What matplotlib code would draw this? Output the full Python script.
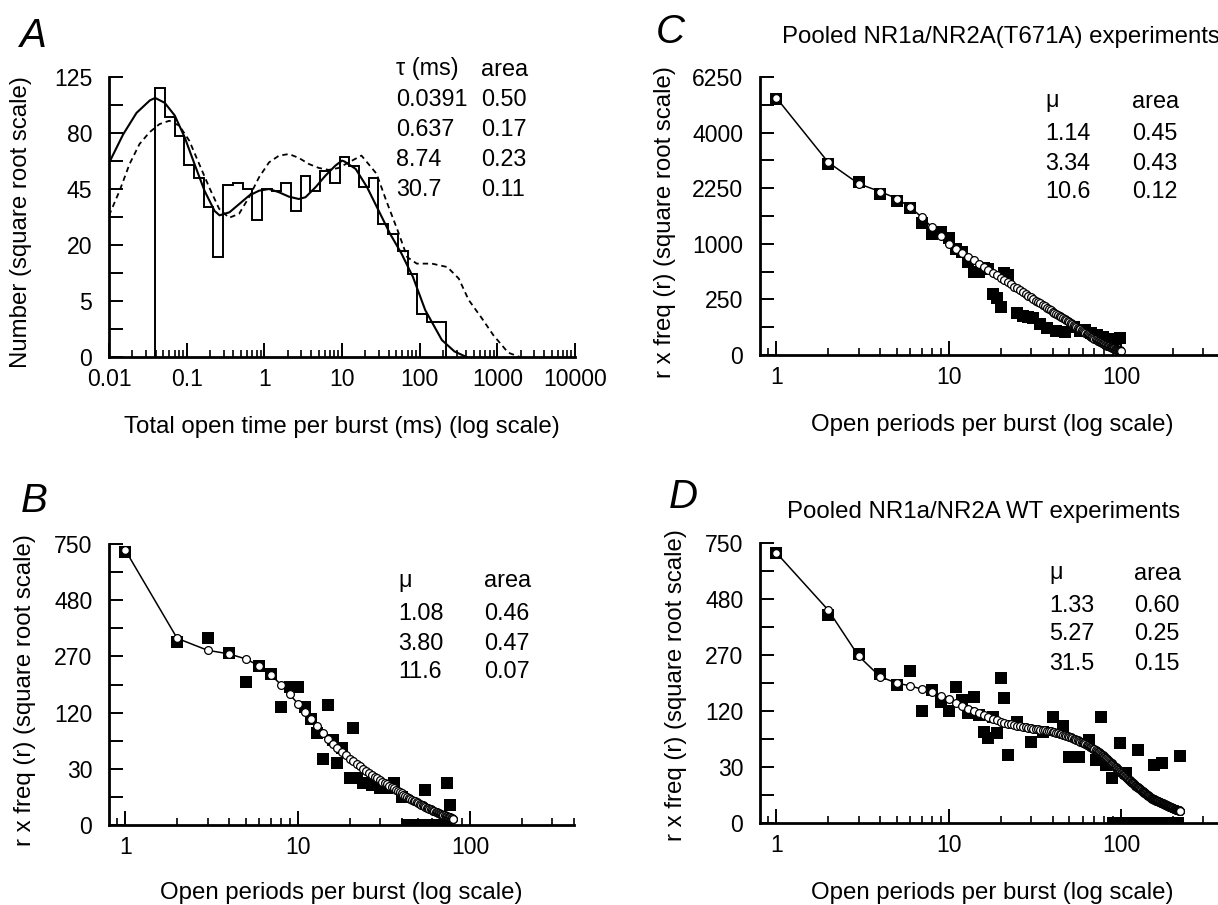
import numpy as np
import matplotlib
matplotlib.use('Agg')
import matplotlib.pyplot as plt
from matplotlib.ticker import FixedLocator, FixedFormatter, NullFormatter

plt.rcParams['font.family'] = ['Liberation Sans', 'DejaVu Sans']
FS_TICK = 16.6
FS_LAB = 17.3
FS_TAB = 16.8

# ---------------- Panel A data ----------------
hist_first_edge = 0.0393          # ms, left edge of first bin
hist_bins_per_decade = 8
hist_counts = [115, 92, 78, 59, 51, 36, 16, 47, 48, 45, 30, 45, 44, 48, 34,
               52, 44, 55, 48, 64, 58, 46, 51, 28, 24, 18, 11, 3, 2, 2]
fit_solid_t = [0.0100, 0.0152, 0.0226, 0.0336, 0.0393, 0.0522, 0.0702, 0.0942, 0.127,
               0.170, 0.229, 0.265, 0.356, 0.478, 0.635, 0.855, 1.15, 1.54, 2.07,
               2.78, 3.39, 4.55, 6.11, 8.22, 10.0, 10.7, 15.0, 21.0, 29.6, 41.6, 58.5,
               82.0, 118, 193, 280, 400]
fit_solid_n = [60, 79, 95, 105, 107, 103, 93, 77, 59, 44, 34, 32, 33.4, 37.4, 41.5,
               44.1, 45.0, 43.3, 41.0, 39.8, 40.7, 45.9, 52.4, 58.4, 61.5, 61, 56.4,
               46, 34.2, 24.2, 17.0, 10.2, 3.5, 0.46, 0.05, 0.0]
fit_dash_t = [0.0100, 0.0137, 0.0184, 0.0247, 0.0332, 0.0447, 0.060, 0.0805, 0.108,
              0.145, 0.195, 0.262, 0.352, 0.473, 0.635, 0.855, 1.15, 1.54, 2.07, 2.78,
              3.74, 5.02, 6.75, 9.06, 11.3, 17.8, 27.9, 37.1, 52.1, 69.2, 91.8, 144,
              227, 319, 427, 631, 891, 1380, 1950]
fit_dash_n = [31.9, 44.1, 59.4, 72.3, 80.5, 86.5, 89.0, 85.3, 74.6, 59.4, 45.9, 35.0,
              30.9, 32.7, 40.7, 51.5, 60.4, 64.6, 65.7, 63.2, 59.4, 57.0, 55.8, 57.0,
              59.5, 64.7, 53.5, 39, 25.5, 15.9, 13.9, 13.9, 12.9, 9.8, 5.2, 2.4, 0.75,
              0.03, 0.0]
a_table = [["\u03c4 (ms)", "area"], ["0.0391", "0.50"], ["0.637", "0.17"],
           ["8.74", "0.23"], ["30.7", "0.11"]]

# ---------------- Panel B data ----------------
b_sq_r = [1, 2, 3, 4, 5, 6, 7, 8, 9, 10, 11, 12, 13, 14, 15, 16, 17, 18, 20, 21, 22,
          24, 26, 27, 30, 33, 36, 40, 55, 73, 76]
b_sq_v = [710, 319, 331, 282, 195, 240, 218, 133, 182, 180, 133, 106, 80, 42, 137,
          68.6, 36, 56, 20.7, 88.8, 20.7, 17, 16.5, 15, 12.8, 13, 16.5, 7.6, 11.6,
          16.5, 3.8]
b_zero_r = [43, 44, 45, 46, 47, 48, 49, 50, 51, 52, 53, 54, 56, 57, 58, 59, 60, 61,
            62, 63, 64, 65, 66, 67, 68, 69, 70, 71, 72]
b_fit_v = [718, 331, 290, 278, 262, 240, 214, 187, 162, 140, 122, 106, 93, 81, 71, 63,
           56, 50.5, 46, 42, 38.7, 35.6, 32.8, 30.3, 28.0, 25.9, 24.1, 22.3, 20.7, 19.2,
           17.9, 16.7, 15.6, 14.5, 13.5, 12.7, 11.8, 11.0, 10.2, 9.5, 8.8, 8.2, 7.7,
           7.1, 6.6, 6.1, 5.7, 5.3, 4.9, 4.5, 4.2, 3.9, 3.7, 3.4, 3.1, 2.9, 2.7, 2.5,
           2.3, 2.1, 1.96, 1.82, 1.69, 1.56, 1.44, 1.33, 1.22, 1.12, 1.03, 0.94, 0.87,
           0.80, 0.73, 0.67, 0.61, 0.55, 0.50, 0.45, 0.40, 0.36]
b_table = [["\u03bc", "area"], ["1.08", "0.46"], ["3.80", "0.47"], ["11.6", "0.07"]]

# ---------------- Panel C data ----------------
c_sq_r = [1, 2, 3, 4, 5, 6, 7, 8, 9, 10, 11, 12, 13, 14, 15, 16, 17, 18, 19, 20, 21,
          22, 25, 27, 29, 31, 34, 37, 42, 47, 53, 58, 62, 67, 72, 78, 84, 92, 99]
c_sq_v = [5302, 2957, 2421, 2090, 1922, 1737, 1409, 1186, 1230, 1103, 912, 856, 700,
          560, 560, 610, 600, 300, 259, 189, 540, 520, 140, 125, 115, 109, 80, 58, 45,
          42, 65, 48, 51, 40, 33, 25, 15, 20, 23]
c_fit_v = [5355, 3004, 2374, 2160, 1980, 1760, 1532, 1318, 1140, 999, 917, 845, 782,
           726, 675, 629, 588, 550, 516, 484, 455, 428, 402, 379, 358, 337, 318, 300,
           284, 268, 253, 240, 227, 215, 203, 192, 181, 172, 162, 153, 145, 137, 130,
           123, 116, 109, 103, 97, 92, 86.5, 81.5, 76.7, 72.1, 67.9, 63.7, 59.8, 56.1,
           52.6, 49.1, 46.0, 42.9, 39.9, 37.2, 34.6, 32.1, 29.8, 27.6, 25.4, 23.4,
           21.5, 19.8, 18.2, 16.7, 15.4, 14.1, 13.0, 11.9, 10.9, 10.0, 9.2, 8.4, 7.7,
           7.1, 6.5, 6.0, 5.5, 5.0, 4.6, 4.2, 3.8, 3.5, 3.2, 2.9, 2.7, 2.4, 2.2, 2.0,
           1.8, 1.6, 1.4]
c_table = [["\u03bc", "area"], ["1.14", "0.45"], ["3.34", "0.43"], ["10.6", "0.12"]]
c_title = "Pooled NR1a/NR2A(T671A) experiments"

# ---------------- Panel D data ----------------
d_sq_r = [1, 2, 3, 4, 5, 6, 7, 8, 9, 10, 11, 12, 13, 14, 15, 16, 17, 18, 19, 20, 21,
          22, 25, 30, 35, 40, 46, 50, 57, 65, 71, 76, 82, 89, 99, 107, 126, 155, 172,
          218]
d_sq_v = [696, 414, 273, 212, 182, 222, 119, 168, 141, 119, 176, 145, 115, 151, 112,
          80, 69, 108, 77, 200, 149, 44, 98, 63, 80, 108, 90, 42, 42, 66, 38, 108, 32,
          19, 61, 24, 51, 32, 34, 43]
d_zero_r = [90, 92, 94, 96, 98, 100, 102, 104, 106, 108, 110, 112, 114, 116, 118, 120,
            122, 124, 128, 130, 132, 134, 136, 138, 140, 142, 144, 146, 148, 150, 152,
            157, 160, 163, 166, 169, 175, 178, 181, 184, 187, 190, 193, 196, 199, 202,
            205, 208, 211, 214]
d_fit_v = [699, 434, 267, 205, 187, 180, 171, 163, 154, 146, 138, 131, 125, 120, 115,
           111, 107, 104, 101, 98, 96.2, 94.5, 92.9, 91.4, 90, 89.2, 88.2, 87.4, 86.5,
           85.7, 85.0, 84.4, 83.8, 83.1, 82.5, 81.9, 81.4, 80.8, 80.3, 79.8, 78.8,
           77.9, 76.9, 76.0, 75.2, 74.3, 73.6, 72.8, 72.0, 71.3, 70.2, 69.1, 68.1, 67.1,
           66.1, 65.2, 64.3, 63.4, 62.5, 61.7, 60.6, 59.5, 58.5, 57.5, 56.5, 55.6, 54.6,
           53.7, 52.8, 52.0, 50.9, 49.8, 48.8, 47.7, 46.7, 45.7, 44.7, 43.8, 42.9, 42.0,
           40.9, 39.8, 38.7, 37.7, 36.7, 35.8, 34.8, 33.9, 33.0, 32.0, 31.2, 30.3, 29.5,
           28.7, 27.9, 27.2, 26.4, 25.7, 24.9, 24.2, 23.6, 22.9, 22.3, 21.7, 21.1, 20.6,
           20.0, 19.4, 18.9, 18.4, 17.9, 17.4, 16.9, 16.4, 15.9, 15.5, 15.0, 14.6, 14.2,
           13.8, 13.4, 13.1, 12.7, 12.4, 12.1, 11.7, 11.4, 11.1, 10.8, 10.5, 10.2, 9.96,
           9.69, 9.43, 9.15, 8.89, 8.65, 8.40, 8.16, 7.92, 7.68, 7.46, 7.24, 7.02, 6.81,
           6.60, 6.40, 6.21, 6.02, 5.81, 5.70, 5.60, 5.49, 5.39, 5.29, 5.19, 5.09, 4.99,
           4.90, 4.81, 4.72, 4.63, 4.54, 4.45, 4.36, 4.28, 4.19, 4.11, 4.03, 3.95, 3.87,
           3.79, 3.72, 3.64, 3.57, 3.49, 3.42, 3.35, 3.28, 3.22, 3.15, 3.09, 3.02, 2.96,
           2.90, 2.84, 2.78, 2.72, 2.66, 2.60, 2.55, 2.49, 2.44, 2.38, 2.33, 2.27, 2.22,
           2.17, 2.12, 2.07, 2.04, 2.00, 1.96, 1.91, 1.87, 1.84, 1.80, 1.76, 1.73, 1.69,
           1.66, 1.63, 1.59, 1.56, 1.53, 1.50, 1.47, 1.43, 1.40, 1.37]
d_table = [["\u03bc", "area"], ["1.33", "0.60"], ["5.27", "0.25"], ["31.5", "0.15"]]
d_title = "Pooled NR1a/NR2A WT experiments"

y_label_r = "r x freq (r) (square root scale)"
x_label_r = "Open periods per burst (log scale)"

# ---------------- helpers ----------------
W, H = 1218, 905
fig = plt.figure(figsize=(W / 100, H / 100), dpi=100)


def px_axes(x0, x1, y0, y1):
    return fig.add_axes([x0 / W, (H - y1) / H, (x1 - x0) / W, (y1 - y0) / H])


def ftext(x, y, s, **kw):
    fig.text(x / W, 1 - y / H, s, **kw)


def sq_fwd(v):
    return np.sqrt(np.clip(v, 0, None))


def sq_inv(s):
    return np.square(s)


def style_axes(ax, ymajor, xlim, xmajor, xmajor_labels, xminor):
    ax.set_xscale('log')
    ax.set_yscale('function', functions=(sq_fwd, sq_inv))
    ax.set_xlim(*xlim)
    ax.set_ylim(0, ymajor[-1])
    for s in ['top', 'right']:
        ax.spines[s].set_visible(False)
    for s in ['left', 'bottom']:
        ax.spines[s].set_linewidth(2.0)
    ax.yaxis.set_major_locator(FixedLocator(ymajor))
    ax.yaxis.set_major_formatter(FixedFormatter([str(v) for v in ymajor]))
    roots = np.sqrt(ymajor)
    mids = ((roots[:-1] + roots[1:]) / 2) ** 2
    ax.yaxis.set_minor_locator(FixedLocator(mids))
    ax.yaxis.set_minor_formatter(NullFormatter())
    ax.xaxis.set_major_locator(FixedLocator(xmajor))
    ax.xaxis.set_major_formatter(FixedFormatter(xmajor_labels))
    ax.xaxis.set_minor_locator(FixedLocator(xminor))
    ax.xaxis.set_minor_formatter(NullFormatter())
    ax.tick_params(axis='y', which='both', direction='in', length=10, width=1.4,
                   labelsize=FS_TICK, pad=12)
    ax.tick_params(axis='x', which='major', direction='in', length=10, width=1.4,
                   labelsize=FS_TICK, pad=8)
    ax.tick_params(axis='x', which='minor', direction='in', length=5, width=1.2)
    ax.patch.set_alpha(0)


def draw_table(rows, x_cols, y_rows):
    for row, y in zip(rows, y_rows):
        for txt, x in zip(row, x_cols):
            ftext(x, y, txt, fontsize=FS_TAB, ha='left', va='center')


def panel_letter(x, y, s):
    ftext(x, y, s, fontsize=29, style='italic', ha='center', va='center')


# ---------------- Panel A ----------------
axA = px_axes(109, 575, 77, 357)
a_minor = [m * 10.0 ** e for e in range(-2, 4) for m in range(2, 10)]
style_axes(axA, [0, 5, 20, 45, 80, 125], (0.01, 10000),
           [0.01, 0.1, 1, 10, 100, 1000, 10000],
           ["0.01", "0.1", "1", "10", "100", "1000", "10000"], a_minor)
edges = hist_first_edge * 10.0 ** (np.arange(len(hist_counts) + 1) / hist_bins_per_decade)
axA.stairs(hist_counts, edges, baseline=0, color='k', lw=1.4)
axA.plot(fit_solid_t, fit_solid_n, color='k', lw=1.5)
axA.plot(fit_dash_t, fit_dash_n, color='k', lw=1.3, ls=(0, (3.0, 2.2)))
ftext(342, 427, "Total open time per burst (ms) (log scale)", fontsize=FS_LAB,
      ha='center', va='center')
ftext(21, 222, "Number (square root scale)", fontsize=FS_LAB, rotation=90,
      ha='center', va='center')
draw_table(a_table, [396, 481], [69, 100, 130, 160, 189])
panel_letter(33, 36, "A")

# ---------------- r-panels ----------------
r_xlim = (0.805, 400)
r_major = [1, 10, 100]
r_minor = [0.9] + [m * 10.0 ** e for e in range(0, 3) for m in range(2, 10)]


def r_panel(box, ymajor, sq_r, sq_v, zero_r, fit_v, table, tx, ty, ylab_x, ylab_y,
            xlab_x, xlab_y):
    ax = px_axes(*box)
    style_axes(ax, ymajor, r_xlim, r_major, ["1", "10", "100"], r_minor)
    ax.plot(sq_r, sq_v, 's', ms=9.3, color='k', mew=0)
    if zero_r:
        ax.plot(zero_r, [0] * len(zero_r), 's', ms=9.3, color='k', mew=0)
    fit_r = np.arange(1, len(fit_v) + 1)
    ax.plot(fit_r, fit_v, '-', color='k', lw=1.1)
    ax.plot(fit_r, fit_v, 'o', ms=5.6, mfc='white', mec='k', mew=0.9)
    draw_table(table, tx, ty)
    ftext(ylab_x, ylab_y, y_label_r, fontsize=FS_LAB, rotation=90, ha='center',
          va='center')
    ftext(xlab_x, xlab_y, x_label_r, fontsize=FS_LAB, ha='center', va='center')
    return ax


r_panel((109, 574, 544, 825), [0, 30, 120, 270, 480, 750], b_sq_r, b_sq_v, b_zero_r,
        b_fit_v, b_table, [398, 484], [580, 613, 643, 671], 25, 690, 341, 893)
panel_letter(34, 501, "B")

r_panel((760, 1225, 77, 355), [0, 250, 1000, 2250, 4000, 6250], c_sq_r, c_sq_v, [],
        c_fit_v, c_table, [1045, 1132], [101, 133, 163, 192], 665, 222, 992, 425)
panel_letter(670, 32, "C")
ftext(782, 37, c_title, fontsize=FS_LAB, ha='left', va='center')

r_panel((760, 1225, 543, 823), [0, 30, 120, 270, 480, 750], d_sq_r, d_sq_v, d_zero_r,
        d_fit_v, d_table, [1049, 1134], [573, 605, 633, 663], 676, 685, 992, 893)
panel_letter(683, 497, "D")
ftext(787, 512, d_title, fontsize=FS_LAB, ha='left', va='center')

fig.savefig('out.png', dpi=100)
